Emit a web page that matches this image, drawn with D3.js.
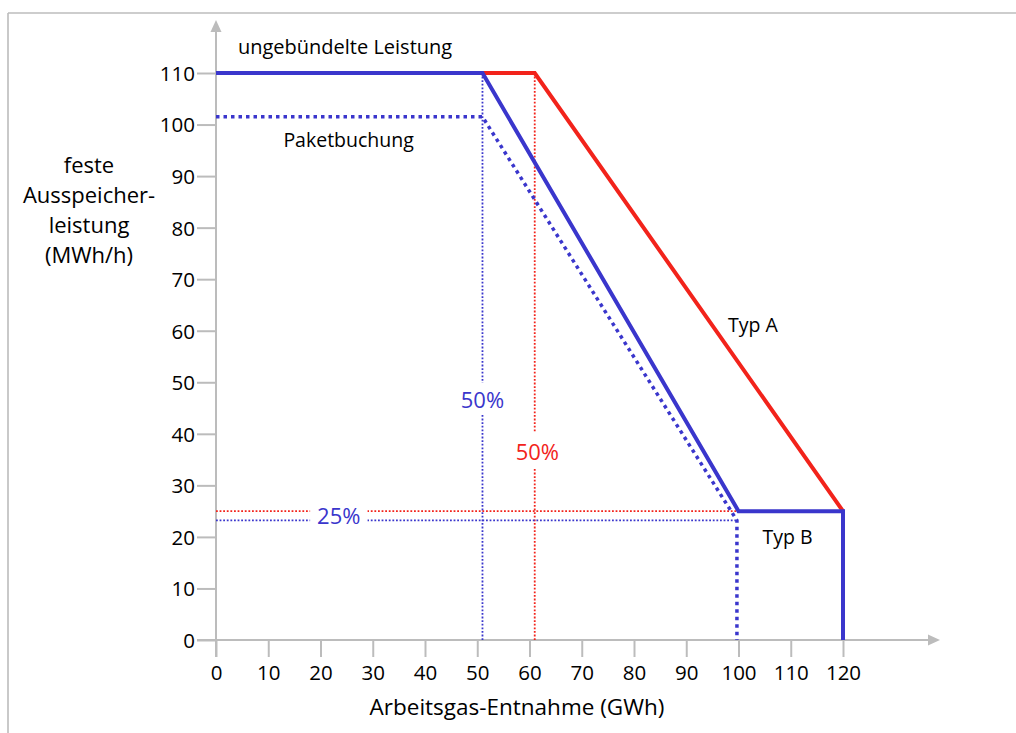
<!DOCTYPE html>
<html>
<head>
<meta charset="utf-8">
<script src="https://cdn.jsdelivr.net/npm/d3@7"></script>
<style>
  html, body { margin: 0; padding: 0; background: #fff; }
  svg { display: block; font-family: "Open Sans", "Noto Sans", sans-serif; }
</style>
</head>
<body>
<svg id="chart" width="1016" height="733"></svg>
<script>
// ---- data ----
const xTicks = [0, 10, 20, 30, 40, 50, 60, 70, 80, 90, 100, 110, 120];
const yTicks = [0, 10, 20, 30, 40, 50, 60, 70, 80, 90, 100, 110];
const typBSolid = [[0, 110], [51, 110], [100, 25], [120, 25], [120, 0]];
const typASolid = [[51, 110], [61, 110], [120, 25]];
const paketDotted = [[0, 101.5], [51, 101.5], [99.7, 23.2], [99.7, 0]];
const blueGuideV = [[51, 110], [51, 0]];
const redGuideV = [[61, 110], [61, 0]];
const redGuideH = [[0, 25], [99.8, 25]];
const blueGuideH = [[0, 23.2], [99.7, 23.2]];
const yTitleLines = ["feste", "Ausspeicher-", "leistung", "(MWh/h)"];

const BLUE = "#3a36cc", RED = "#f2231b", GRAY = "#bcbcbc", INK = "#000";

const svg = d3.select("#chart");
const x = d3.scaleLinear().domain([0, 120]).range([216, 843]);
const y = d3.scaleLinear().domain([0, 110]).range([640, 73]);
const line = d3.line().x(d => x(d[0])).y(d => y(d[1]));

// frame
svg.append("line").attr("x1", 8).attr("x2", 1016).attr("y1", 13).attr("y2", 13)
  .attr("stroke", GRAY).attr("stroke-width", 1.6);
svg.append("line").attr("x1", 8).attr("x2", 8).attr("y1", 13).attr("y2", 733)
  .attr("stroke", GRAY).attr("stroke-width", 1.6);

// axes
const yAxis = svg.append("g").attr("transform", `translate(${x(0)},0)`)
  .call(d3.axisLeft(y).tickValues(yTicks).tickSize(19).tickPadding(2));
const xAxis = svg.append("g").attr("transform", `translate(0,${y(0)})`)
  .call(d3.axisBottom(x).tickValues(xTicks).tickSize(17).tickPadding(8));
[yAxis, xAxis].forEach(g => {
  g.select(".domain").remove();
  g.selectAll(".tick line").attr("stroke", GRAY).attr("stroke-width", 2);
  g.selectAll(".tick text").attr("fill", INK).style("font-size", "20.5px")
    .style("font-weight", 500)
    .style("font-family", '"Open Sans", sans-serif');
});
yAxis.selectAll(".tick text").attr("dy", "0.36em");

// axis lines with arrows
svg.append("line").attr("x1", x(0)).attr("x2", x(0)).attr("y1", y(0) + 17).attr("y2", 31)
  .attr("stroke", GRAY).attr("stroke-width", 2);
svg.append("path").attr("d", `M${x(0)},20 L${x(0) - 5.5},32 L${x(0) + 5.5},32 Z`).attr("fill", GRAY);
svg.append("line").attr("x1", x(0) - 19).attr("x2", 929).attr("y1", y(0)).attr("y2", y(0))
  .attr("stroke", GRAY).attr("stroke-width", 2);
svg.append("path").attr("d", `M940,${y(0)} L928,${y(0) - 5.5} L928,${y(0) + 5.5} Z`).attr("fill", GRAY);

// thin dotted guides
[[blueGuideV, BLUE], [redGuideV, RED], [redGuideH, RED], [blueGuideH, BLUE]].forEach(([d, c]) => {
  svg.append("path").attr("d", line(d)).attr("fill", "none")
    .attr("stroke", c).attr("stroke-width", 1.8).attr("stroke-dasharray", "1.8,1.8");
});

// thick dotted (Paketbuchung)
svg.append("path").attr("d", line(paketDotted)).attr("fill", "none")
  .attr("stroke", BLUE).attr("stroke-width", 3.5).attr("stroke-dasharray", "3.5,4");

// solid lines
svg.append("path").attr("d", line(typASolid)).attr("fill", "none")
  .attr("stroke", RED).attr("stroke-width", 4).attr("stroke-linejoin", "miter");
svg.append("path").attr("d", line(typBSolid)).attr("fill", "none")
  .attr("stroke", BLUE).attr("stroke-width", 4).attr("stroke-linejoin", "miter");

// labels with white gaps behind
function label(txt, px, py, size, color, anchor, gap, weight) {
  const t = svg.append("text").attr("x", px).attr("y", py).text(txt)
    .attr("fill", color).style("font-size", size + "px").style("font-weight", weight || 400)
    .attr("text-anchor", anchor || "start");
  if (gap) {
    const b = t.node().getBBox();
    svg.insert("rect", () => t.node()).attr("x", b.x - gap[0]).attr("y", b.y - gap[1])
      .attr("width", b.width + 2 * gap[0]).attr("height", b.height + 2 * gap[1]).attr("fill", "#fff");
  }
  return t;
}
label("ungebündelte Leistung", x(4.2), y(113.7), 20, INK);
label("Paketbuchung", x(12.9), y(95.6), 19.5, INK);
label("Typ A", x(98), y(59.7), 19.5, INK);
label("Typ B", x(104.6), y(18.6), 19.5, INK);
label("50%", x(51), y(45.1), 22, BLUE, "middle", [5, 1], 500);
label("50%", x(61.5), y(35), 22, RED, "middle", [5, 3], 500);
label("25%", x(23.5), y(22.6), 22, BLUE, "middle", [7, 0], 500);

// axis titles
svg.append("text").attr("x", 517).attr("y", 715).attr("text-anchor", "middle")
  .style("font-size", "22.5px").attr("fill", INK).text("Arbeitsgas-Entnahme (GWh)");
const yt = svg.append("text").attr("text-anchor", "middle").style("font-size", "22px").attr("fill", INK);
yTitleLines.forEach((s, i) => {
  yt.append("tspan").attr("x", 89).attr("y", 173 + i * 30).text(s);
});
</script>
</body>
</html>
